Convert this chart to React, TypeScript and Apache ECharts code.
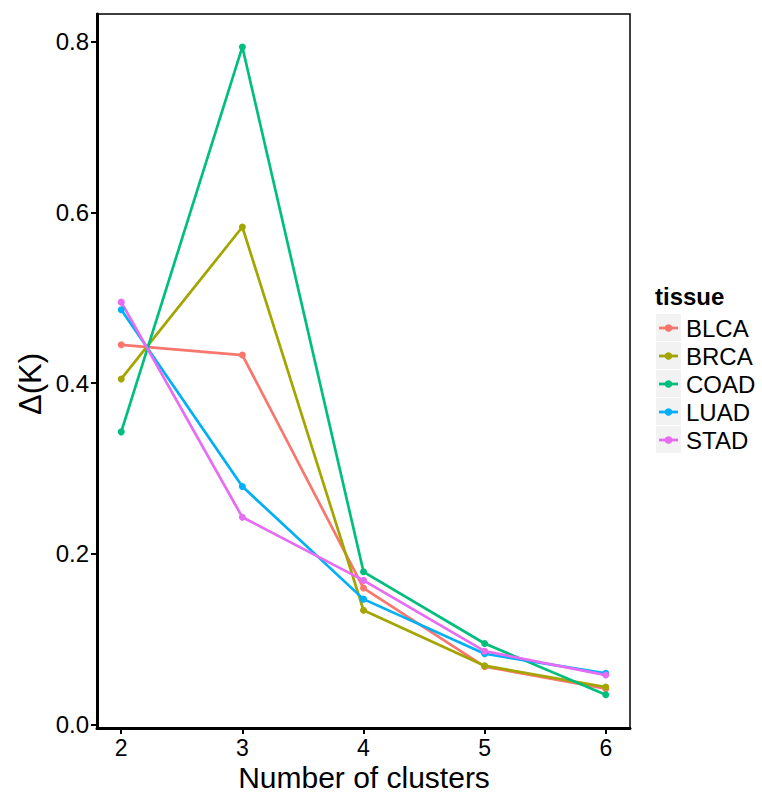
import React, { useEffect, useRef } from "react";
import * as echarts from "echarts";

const clusters = [2, 3, 4, 5, 6];
const tissues = ["BLCA", "BRCA", "COAD", "LUAD", "STAD"];
const colors = ["#F8766D", "#A3A500", "#00BF7D", "#00B0F6", "#E76BF3"];
const BLCA = [0.445, 0.433, 0.16, 0.068, 0.042];
const BRCA = [0.405, 0.583, 0.134, 0.069, 0.044];
const COAD = [0.343, 0.794, 0.179, 0.095, 0.035];
const LUAD = [0.486, 0.279, 0.147, 0.083, 0.06];
const STAD = [0.495, 0.243, 0.169, 0.086, 0.058];
const seriesValues = [BLCA, BRCA, COAD, LUAD, STAD];
const yTicks = [0, 0.2, 0.4, 0.6, 0.8];

const FONT = "'Liberation Sans', Arial, Helvetica, sans-serif";

export default function App() {
  const ref = useRef<HTMLDivElement>(null);
  useEffect(() => {
    const chart = echarts.init(ref.current!, null, { renderer: "svg" });
    const legendX = 656;
    const legendY0 = 314;
    const keyH = 28;
    const graphics: any[] = [
      {
        type: "text",
        left: 655,
        top: 284,
        style: { text: "tissue", fontFamily: FONT, fontSize: 24, fontWeight: "bold", fill: "#000" },
      },
    ];
    tissues.forEach((t, i) => {
      const y = legendY0 + i * keyH;
      graphics.push({ type: "rect", shape: { x: legendX, y, width: 25, height: keyH - 1 }, style: { fill: "#f2f2f2" } });
      graphics.push({
        type: "line",
        shape: { x1: legendX + 3, y1: y + keyH / 2, x2: legendX + 22, y2: y + keyH / 2 },
        style: { stroke: colors[i], lineWidth: 2.8 },
      });
      graphics.push({ type: "circle", shape: { cx: legendX + 12.5, cy: y + keyH / 2, r: 3.8 }, style: { fill: colors[i] } });
      graphics.push({
        type: "text",
        x: 686,
        y: y + keyH / 2,
        style: { text: t, fontFamily: FONT, fontSize: 24, fill: "#000", verticalAlign: "middle", textVerticalAlign: "middle" },
      });
    });
    graphics.push({
      type: "text",
      x: 364,
      y: 777,
      style: { text: "Number of clusters", fontFamily: FONT, fontSize: 30, fill: "#000", align: "center", verticalAlign: "middle", textAlign: "center", textVerticalAlign: "middle" },
    });
    graphics.push({
      type: "text",
      x: 30,
      y: 384,
      rotation: Math.PI / 2,
      style: { text: "Δ(K)", fontFamily: FONT, fontSize: 31, fill: "#000", align: "center", verticalAlign: "middle", textAlign: "center", textVerticalAlign: "middle" },
    });

    chart.setOption({
      animation: false,
      backgroundColor: "#fff",
      grid: { left: 97, top: 14, width: 533, height: 714, show: true, borderColor: "#000", borderWidth: 1.5, backgroundColor: "transparent" },
      xAxis: {
        type: "value",
        min: 1.8,
        max: 6.2,
        axisLine: { show: true, onZero: false, lineStyle: { color: "#000", width: 3 } },
        axisTick: { show: true, length: 6, lineStyle: { color: "#000", width: 2 }, customValues: clusters },
        axisLabel: { customValues: clusters, color: "#000", fontSize: 23, fontFamily: FONT, margin: 8 },
        splitLine: { show: false },
      },
      yAxis: {
        type: "value",
        min: -0.004,
        max: 0.8326,
        axisLine: { show: true, onZero: false, lineStyle: { color: "#000", width: 3 } },
        axisTick: { show: true, length: 6, lineStyle: { color: "#000", width: 2 }, customValues: yTicks },
        axisLabel: {
          customValues: yTicks,
          color: "#000",
          fontSize: 24,
          fontFamily: FONT,
          margin: 8,
          formatter: (v: number) => v.toFixed(1),
        },
        splitLine: { show: false },
      },
      series: tissues.map((t, i) => ({
        name: t,
        type: "line",
        data: clusters.map((c, j) => [c, seriesValues[i][j]]),
        symbol: "circle",
        symbolSize: 7,
        showSymbol: true,
        lineStyle: { color: colors[i], width: 2.7 },
        itemStyle: { color: colors[i] },
      })),
      graphic: graphics,
    });
    return () => chart.dispose();
  }, []);
  return <div ref={ref} style={{ width: 762, height: 792, position: "absolute", left: 0, top: 0 }} />;
}
